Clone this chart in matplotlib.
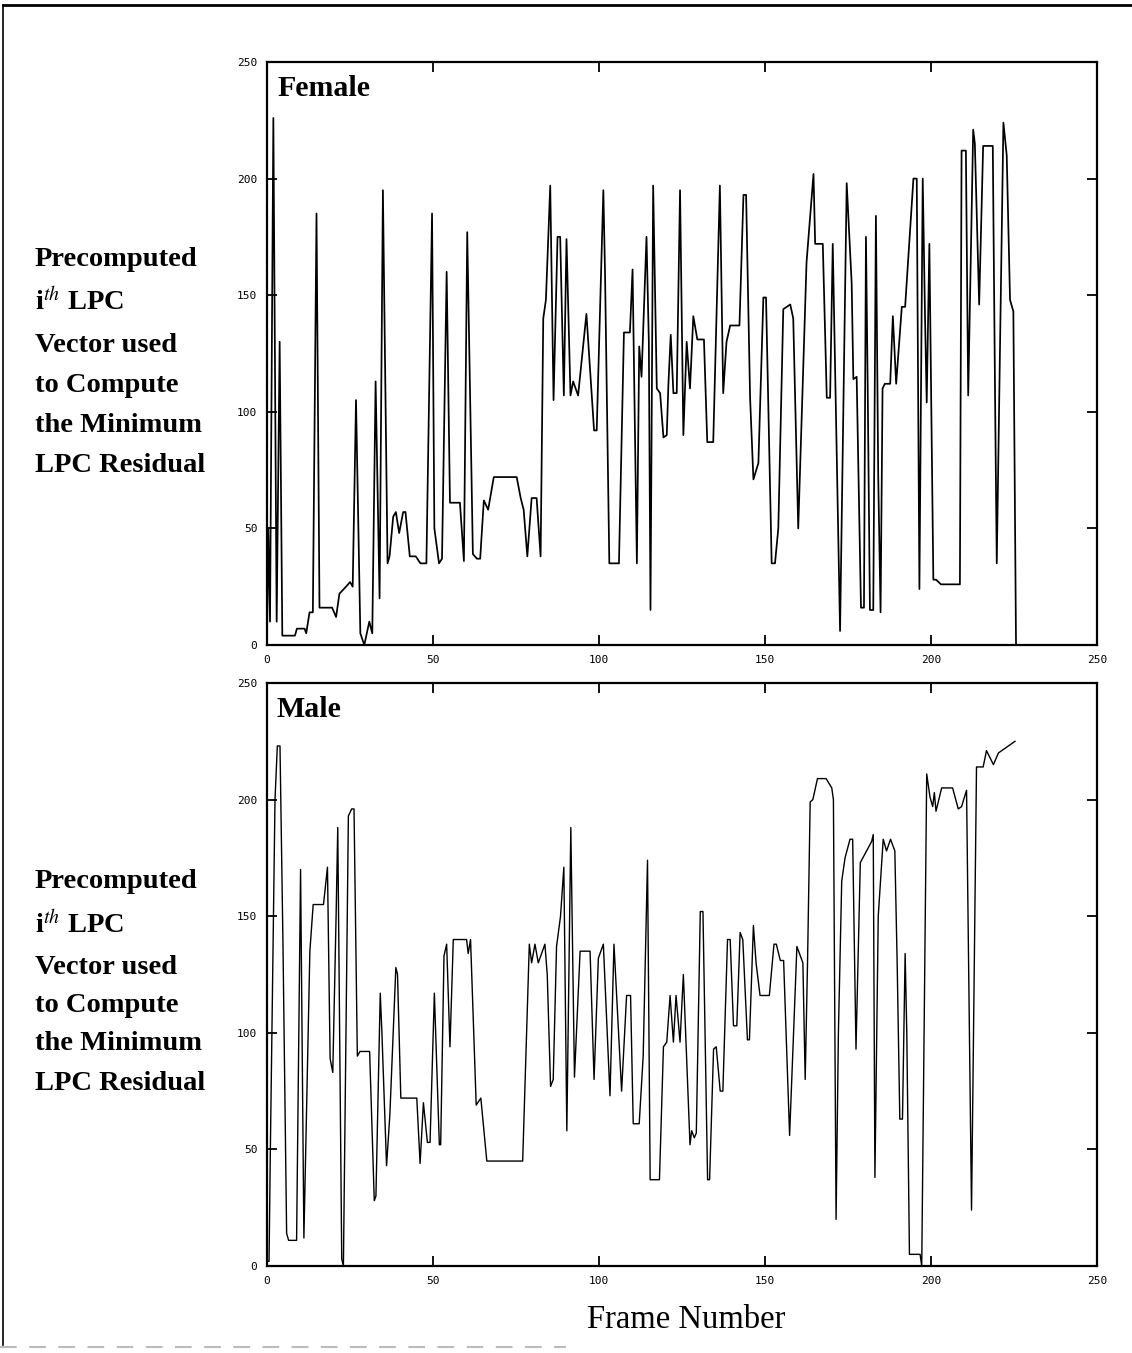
import matplotlib
matplotlib.use('Agg')
import matplotlib.pyplot as plt
from matplotlib.lines import Line2D

plt.rcParams['mathtext.fontset'] = 'stix'

# LPC vector index chosen per frame (female speaker)
female_frame = [0, 0.4, 0.9, 1.9, 2.9, 3.8, 4.6, 8.4, 9.0, 11.3, 11.8, 12.8, 13.8, 14.9, 15.8,
                19.6, 20.8, 21.8, 23.8, 25.0, 25.8, 26.8, 28.1, 29.3, 30.8, 31.7, 32.7, 33.9,
                34.9, 36.3, 36.9, 38.0, 38.8, 39.8, 41.0, 41.7, 43.0, 44.8, 46.2, 48.0, 49.7,
                50.4, 51.8, 52.7, 54.1, 55.1, 58.1, 59.3, 60.3, 62.0, 63.2, 64.2, 65.3, 66.6,
                68.3, 75.2, 76.4, 77.3, 78.4, 79.7, 81.2, 82.4, 83.2, 84.0, 85.3, 86.3, 87.5,
                88.3, 89.4, 90.2, 91.4, 92.2, 93.7, 96.2, 98.5, 99.3, 101.3, 101.8, 103.1,
                106.0, 107.5, 109.3, 110.1, 111.4, 112.1, 112.8, 114.3, 115.0, 115.5, 116.3,
                117.4, 118.4, 119.4, 120.4, 120.9, 121.6, 122.4, 123.4, 124.4, 125.4, 126.4,
                127.4, 128.4, 129.6, 131.6, 132.6, 134.4, 136.4, 137.4, 138.4, 139.5, 142.3,
                143.5, 144.3, 145.5, 146.5, 148.0, 149.5, 150.3, 152.0, 153.0, 154.0, 155.5,
                157.6, 158.5, 160.0, 162.5, 164.6, 165.1, 167.4, 168.6, 169.6, 170.4, 172.6,
                174.6, 176.1, 176.6, 177.6, 178.9, 179.8, 180.4, 180.9, 181.6, 182.6, 183.4,
                184.1, 184.8, 185.4, 186.1, 187.7, 188.5, 189.5, 191.2, 192.2, 194.7, 195.7,
                196.5, 197.5, 198.2, 198.7, 199.5, 200.7, 201.5, 203.0, 208.7, 209.2, 210.5,
                211.2, 212.7, 213.2, 214.5, 215.7, 218.6, 219.3, 219.8, 221.8, 222.8, 223.8,
                224.8, 225.6]
female_vec = [5, 50, 10, 226, 10, 130, 4, 4, 7, 7, 5, 14, 14, 185, 16,
              16, 12, 22, 25, 27, 25, 105, 5, 0, 10, 5, 113, 20,
              195, 35, 38, 55, 57, 48, 57, 57, 38, 38, 35, 35, 185,
              50, 35, 37, 160, 61, 61, 36, 177, 39, 37, 37, 62, 58,
              72, 72, 63, 58, 38, 63, 63, 38, 140, 148, 197, 105, 175,
              175, 107, 174, 107, 113, 107, 142, 92, 92, 195, 160, 35,
              35, 134, 134, 161, 35, 128, 115, 175, 130, 15, 197,
              110, 108, 89, 90, 112, 133, 108, 108, 195, 90, 130,
              110, 141, 131, 131, 87, 87, 197, 108, 130, 137, 137,
              193, 193, 106, 71, 78, 149, 149, 35, 35, 50, 144,
              146, 140, 50, 164, 202, 172, 172, 106, 106, 172, 6,
              198, 155, 114, 115, 16, 16, 175, 114, 15, 15, 184,
              72, 14, 110, 112, 112, 141, 112, 145, 145, 200, 200,
              24, 200, 140, 104, 172, 28, 28, 26, 26, 212, 212,
              107, 221, 215, 146, 214, 214, 105, 35, 224, 210, 148,
              143, 0]

# LPC vector index chosen per frame (male speaker)
male_frame = [0, 0.6, 1.0, 2.4, 3.1, 3.9, 4.8, 5.9, 6.5, 8.9, 10.1, 11.1, 12.9, 13.9, 17.0,
              18.2, 19.0, 19.8, 20.8, 21.3, 22.5, 23.0, 24.5, 25.5, 26.2, 27.2, 28.0, 30.9,
              32.3, 32.8, 34.1, 34.6, 36.0, 37.0, 38.8, 39.3, 40.3, 45.1, 46.1, 47.1, 48.3,
              49.1, 50.4, 51.9, 52.3, 53.3, 54.1, 55.1, 56.1, 60.1, 60.6, 61.3, 63.0, 64.4,
              65.2, 66.2, 77.0, 79.0, 79.7, 80.7, 81.7, 83.7, 84.4, 85.4, 86.2, 87.2, 88.4,
              89.4, 90.3, 91.5, 92.6, 94.3, 97.3, 98.5, 99.8, 101.3, 103.3, 104.5, 106.8,
              108.3, 109.5, 110.3, 112.1, 113.3, 114.6, 115.4, 118.2, 119.4, 120.4, 121.4,
              122.4, 123.2, 124.4, 125.4, 127.4, 127.9, 128.7, 129.3, 130.5, 131.3, 132.7,
              133.3, 134.5, 135.3, 136.5, 137.3, 138.7, 139.5, 140.5, 141.5, 142.5, 143.3,
              144.7, 145.3, 146.5, 147.3, 148.5, 151.3, 152.7, 153.4, 154.6, 155.6, 157.4,
              159.6, 161.4, 162.1, 162.8, 163.6, 164.4, 165.8, 168.4, 170.1, 170.6, 171.4,
              172.1, 173.1, 174.1, 175.6, 176.4, 177.4, 178.7, 180.6, 182.1, 182.6, 183.1,
              184.1, 185.6, 186.6, 187.8, 189.1, 189.8, 190.6, 191.4, 192.2, 192.7, 193.5,
              196.7, 197.2, 198.7, 199.7, 200.5, 201.0, 201.5, 203.2, 206.5, 208.2, 209.2,
              210.7, 212.2, 213.7, 215.7, 216.7, 218.8, 220.3, 225.3]
male_vec = [2, 2, 50, 200, 223, 223, 138, 14, 11, 11, 170, 12, 135, 155, 155,
            171, 89, 83, 150, 188, 3, 0, 193, 196, 196, 90, 92, 92,
            28, 30, 117, 100, 43, 65, 128, 125, 72, 72, 44, 70, 53,
            53, 117, 52, 52, 133, 138, 94, 140, 140, 134, 140, 69, 72,
            60, 45, 45, 138, 130, 138, 130, 138, 125, 77, 80, 137, 150,
            171, 58, 188, 81, 135, 135, 80, 132, 138, 73, 138, 75,
            116, 116, 61, 61, 90, 174, 37, 37, 94, 96, 116,
            96, 116, 96, 125, 52, 58, 55, 57, 152, 152, 37,
            37, 93, 94, 75, 75, 140, 140, 103, 103, 143, 140,
            97, 97, 146, 130, 116, 116, 138, 138, 131, 131, 56,
            137, 130, 80, 130, 199, 200, 209, 209, 205, 200, 20,
            100, 165, 175, 183, 183, 93, 173, 178, 182, 185, 38,
            150, 183, 178, 183, 178, 130, 63, 63, 134, 100, 5,
            5, 0, 211, 201, 197, 203, 195, 205, 205, 196, 197,
            204, 24, 214, 214, 221, 215, 220, 225]

ticks = [0, 50, 100, 150, 200, 250]
tick_labels = ['0', '50', '100', '150', '200', '250']
side_lines = ['Precomputed', 'i$^{th}$ LPC', 'Vector used', 'to Compute', 'the Minimum', 'LPC Residual']

serif = 'Liberation Serif'
mono = 'DejaVu Sans Mono'

fig = plt.figure(figsize=(11.32, 13.53), dpi=100)
ax_f = fig.add_axes([0.2359, 0.5233, 0.7332, 0.4309])
ax_m = fig.add_axes([0.2359, 0.0643, 0.7332, 0.4309])

for ax, frames, vec, name, lw in [(ax_f, female_frame, female_vec, 'Female', 1.25),
                                  (ax_m, male_frame, male_vec, 'Male', 1.0)]:
    ax.plot(frames, vec, color='black', lw=lw)
    ax.set_xlim(0, 250)
    ax.set_ylim(0, 250)
    ax.set_xticks(ticks)
    ax.set_yticks(ticks)
    ax.set_xticklabels(tick_labels, family=mono, fontsize=8)
    ax.set_yticklabels(tick_labels, family=mono, fontsize=8)
    ax.tick_params(direction='in', length=7, width=1.3, top=True, right=True, pad=7)
    for s in ax.spines.values():
        s.set_linewidth(1.6)
    ax.text(0.012, 0.955, name, transform=ax.transAxes, ha='left', va='center',
            family=serif, fontweight='bold', fontsize=21.5)

# left-hand description for each panel
H = 1353.0
for ys in ([260, 302, 345, 385, 425, 465], [882, 925, 967, 1005, 1043, 1083]):
    for y, line in zip(ys, side_lines):
        fig.text(35 / 1132, 1 - y / H, line, ha='left', va='center',
                 family=serif, fontweight='bold', fontsize=20.5)

fig.text(686 / 1132, 1 - 1320 / H, 'Frame Number', ha='center', va='center',
         family=serif, fontsize=23.5)

# page frame
fig.add_artist(Line2D([0.003, 1.0], [1 - 5 / H, 1 - 5 / H], transform=fig.transFigure,
                      color='black', lw=2))
fig.add_artist(Line2D([0.003, 0.003], [1 - 5 / H, 1 - 1345 / H], transform=fig.transFigure,
                      color='black', lw=1.2))
fig.add_artist(Line2D([0.0, 0.5], [1 - 1347 / H, 1 - 1347 / H], transform=fig.transFigure,
                      color='#bbbbbb', lw=1.5, ls=(0, (8, 6))))

fig.savefig('out.png', dpi=100)
